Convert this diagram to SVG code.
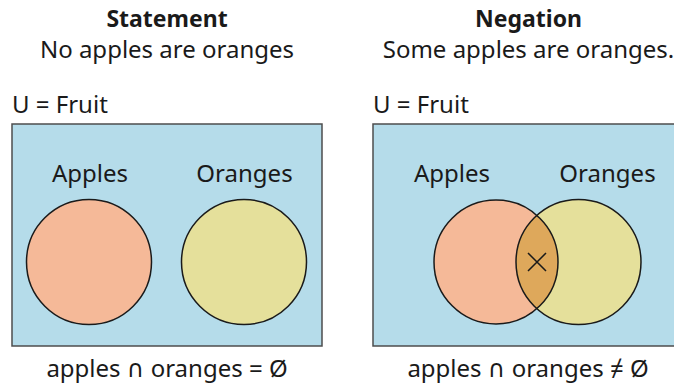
<svg xmlns="http://www.w3.org/2000/svg" width="674" height="383" viewBox="0 0 674 383">
<style>
text{font-family:"Noto Sans","Open Sans","DejaVu Sans",sans-serif;fill:#1a1a1a;font-size:24px;text-anchor:middle}
.title{font-weight:bold;font-size:23px}
.lft{text-anchor:start}
.univ{fill:#b5dcea;stroke:#4d4d4d;stroke-width:1.5}
.apple{fill:#f5b998}
.orange{fill:#e5e09b}
.overlap{fill:#dea85b}
.edge{fill:none;stroke:#1a1a1a;stroke-width:1.5}
</style>
<defs>
<clipPath id="clipApple"><circle cx="496" cy="262" r="62"/></clipPath>
</defs>
<rect width="674" height="383" fill="#ffffff"/>
<g id="statement">
<text class="title" x="167" y="27">Statement</text>
<text x="167" y="58">No apples are oranges</text>
<text class="lft" x="12" y="113">U = Fruit</text>
<rect class="univ" x="12" y="124" width="310" height="222"/>
<text x="90" y="182">Apples</text>
<text x="244.5" y="182">Oranges</text>
<g id="apples-left"><circle class="apple" cx="89" cy="262" r="62.5"/><circle class="edge" cx="89" cy="262" r="62.5"/></g>
<g id="oranges-left"><circle class="orange" cx="244" cy="262" r="62.5"/><circle class="edge" cx="244" cy="262" r="62.5"/></g>
<text x="167" y="377">apples ∩ oranges = Ø</text>
</g>
<g id="negation">
<text class="title" x="528.5" y="27">Negation</text>
<text x="528.5" y="58">Some apples are oranges.</text>
<text class="lft" x="373" y="113">U = Fruit</text>
<rect class="univ" x="373" y="124" width="312" height="222"/>
<text x="452" y="182">Apples</text>
<text x="607.5" y="182">Oranges</text>
<g id="apples-right"><circle class="apple" cx="496" cy="262" r="62"/></g>
<g id="oranges-right"><circle class="orange" cx="578.5" cy="262" r="62.5"/></g>
<g id="intersection">
<circle class="overlap" cx="578.5" cy="262" r="62.5" clip-path="url(#clipApple)"/>
<path class="edge" d="M528,253 L546,271 M546,253 L528,271"/>
</g>
<circle class="edge" cx="496" cy="262" r="62"/>
<circle class="edge" cx="578.5" cy="262" r="62.5"/>
<text x="528" y="377">apples ∩ oranges ≠ Ø</text>
</g>
</svg>
